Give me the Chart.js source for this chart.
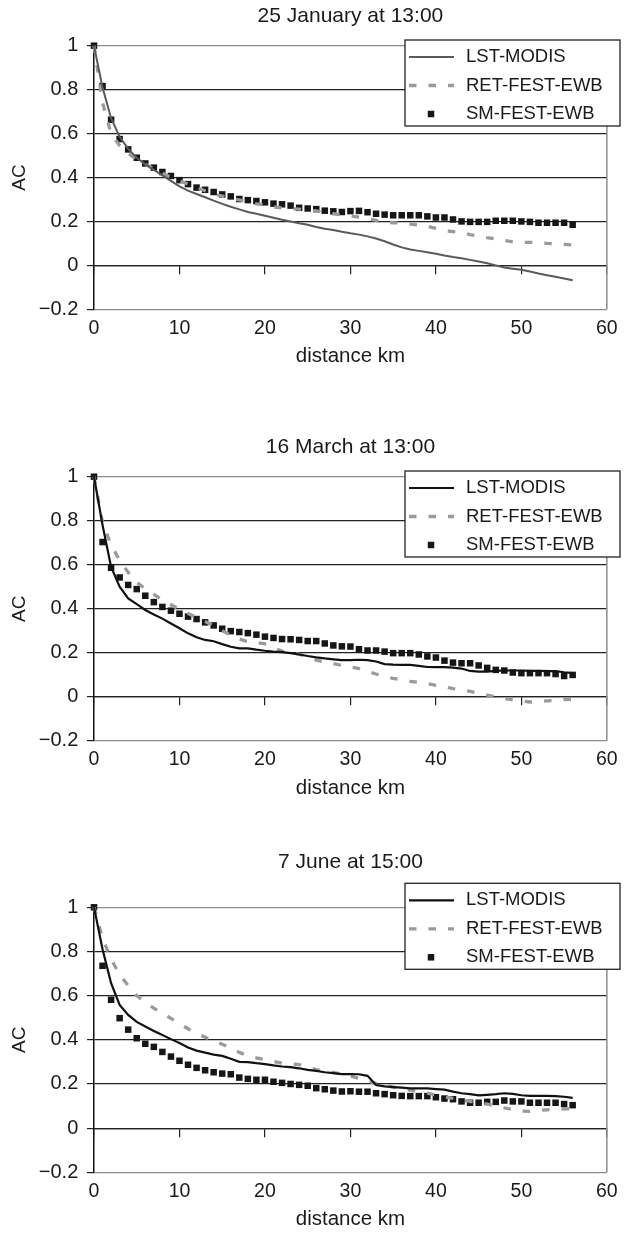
<!DOCTYPE html>
<html>
<head>
<meta charset="utf-8">
<script src="https://cdn.jsdelivr.net/npm/chart.js@4.4.1/dist/chart.umd.min.js"></script>
<style>
  html, body { margin: 0; padding: 0; background: #fff; }
  body { width: 625px; height: 1234px; position: relative; overflow: hidden; }
  canvas { position: absolute; left: 0; }
</style>
</head>
<body>
<canvas id="c1"></canvas>
<canvas id="c2"></canvas>
<canvas id="c3"></canvas>
<script>
// ---------------- DATA ----------------
const distanceKm = [0,1,2,3,4,5,6,7,8,9,10,11,12,13,14,15,16,17,18,19,20,21,22,23,24,25,26,27,28,29,30,31,32,33,34,35,36,37,38,39,40,41,42,43,44,45,46,47,48,49,50,51,52,53,54,55,56];

const seriesNames = ['LST-MODIS', 'RET-FEST-EWB', 'SM-FEST-EWB'];
const chartTitles = ['25 January at 13:00', '16 March at 13:00', '7 June at 15:00'];

const xTickValues = [0, 10, 20, 30, 40, 50, 60];
const xTickLabels = ['0', '10', '20', '30', '40', '50', '60'];
const yTickValues = [-0.2, 0, 0.2, 0.4, 0.6, 0.8, 1];
const yTickLabels = ['\u22120.2', '0', '0.2', '0.4', '0.6', '0.8', '1'];

// 25 January at 13:00
const janLST = [1.0,0.81,0.67,0.585,0.53,0.49,0.46,0.435,0.41,0.385,0.36,0.34,0.325,0.31,0.295,0.28,0.267,0.255,0.243,0.235,0.226,0.217,0.208,0.2,0.192,0.185,0.175,0.167,0.161,0.153,0.146,0.14,0.132,0.122,0.11,0.095,0.082,0.072,0.066,0.06,0.053,0.045,0.038,0.032,0.025,0.018,0.01,0.0,-0.01,-0.015,-0.02,-0.028,-0.037,-0.045,-0.052,-0.06,-0.068];
const janRET = [1.0,0.74,0.6,0.545,0.51,0.48,0.46,0.44,0.42,0.4,0.385,0.37,0.355,0.34,0.325,0.315,0.305,0.298,0.29,0.28,0.275,0.266,0.262,0.258,0.256,0.252,0.248,0.24,0.235,0.23,0.225,0.22,0.213,0.205,0.197,0.194,0.192,0.188,0.183,0.178,0.168,0.158,0.154,0.15,0.14,0.133,0.126,0.12,0.113,0.107,0.105,0.105,0.104,0.1,0.098,0.096,0.093];
const janSM = [1.0,0.816,0.663,0.575,0.528,0.49,0.464,0.445,0.425,0.407,0.388,0.37,0.354,0.344,0.334,0.323,0.314,0.302,0.297,0.293,0.287,0.281,0.278,0.272,0.262,0.259,0.256,0.249,0.246,0.243,0.247,0.248,0.242,0.235,0.231,0.228,0.228,0.228,0.228,0.223,0.218,0.218,0.209,0.2,0.198,0.198,0.198,0.203,0.203,0.203,0.2,0.198,0.194,0.194,0.194,0.194,0.185];

// 16 March at 13:00
const marLST = [1.0,0.78,0.59,0.5,0.447,0.421,0.394,0.374,0.355,0.333,0.311,0.288,0.27,0.258,0.252,0.239,0.227,0.22,0.22,0.214,0.209,0.205,0.203,0.198,0.192,0.185,0.179,0.174,0.17,0.166,0.166,0.168,0.166,0.16,0.148,0.146,0.145,0.145,0.14,0.135,0.134,0.134,0.132,0.128,0.117,0.114,0.114,0.117,0.119,0.119,0.119,0.117,0.117,0.116,0.116,0.111,0.107];
const marRET = [1.0,0.79,0.69,0.62,0.565,0.52,0.49,0.465,0.44,0.418,0.397,0.378,0.36,0.342,0.322,0.3,0.28,0.262,0.25,0.246,0.24,0.222,0.207,0.2,0.193,0.182,0.166,0.158,0.15,0.142,0.136,0.128,0.115,0.103,0.092,0.083,0.076,0.07,0.065,0.059,0.052,0.045,0.037,0.03,0.024,0.016,0.007,0.0,-0.008,-0.014,-0.02,-0.024,-0.022,-0.019,-0.016,-0.013,-0.012];
const marSM = [1.0,0.703,0.586,0.542,0.508,0.489,0.459,0.43,0.408,0.391,0.377,0.364,0.353,0.338,0.324,0.309,0.298,0.294,0.289,0.282,0.273,0.267,0.262,0.261,0.258,0.253,0.253,0.242,0.233,0.229,0.228,0.216,0.21,0.21,0.205,0.198,0.198,0.198,0.192,0.183,0.178,0.164,0.155,0.152,0.152,0.142,0.131,0.122,0.119,0.11,0.107,0.107,0.107,0.107,0.103,0.094,0.099];

// 7 June at 15:00
const junLST = [1.0,0.81,0.656,0.558,0.513,0.481,0.46,0.44,0.422,0.403,0.385,0.365,0.351,0.342,0.333,0.327,0.314,0.3,0.299,0.294,0.29,0.284,0.279,0.276,0.271,0.264,0.259,0.253,0.249,0.245,0.245,0.244,0.237,0.195,0.189,0.186,0.183,0.18,0.18,0.18,0.177,0.174,0.165,0.158,0.154,0.148,0.151,0.154,0.158,0.155,0.149,0.146,0.146,0.146,0.145,0.142,0.137];
const junRET = [1.0,0.86,0.765,0.695,0.645,0.6,0.57,0.543,0.52,0.497,0.474,0.45,0.43,0.412,0.395,0.38,0.362,0.343,0.327,0.318,0.31,0.302,0.294,0.291,0.288,0.276,0.265,0.258,0.252,0.245,0.236,0.225,0.213,0.203,0.194,0.186,0.178,0.172,0.165,0.158,0.15,0.142,0.135,0.128,0.121,0.115,0.109,0.1,0.092,0.085,0.077,0.076,0.08,0.083,0.085,0.087,0.088];
const junSM = [1.0,0.735,0.581,0.498,0.446,0.407,0.382,0.368,0.345,0.324,0.305,0.287,0.273,0.262,0.253,0.247,0.244,0.229,0.223,0.219,0.219,0.21,0.205,0.2,0.196,0.192,0.181,0.176,0.17,0.166,0.167,0.165,0.165,0.158,0.154,0.149,0.146,0.145,0.145,0.145,0.14,0.134,0.131,0.121,0.115,0.115,0.119,0.119,0.125,0.121,0.121,0.115,0.115,0.115,0.115,0.109,0.104];

// ---------------- STYLE / LAYOUT ----------------
const FONT = "'Liberation Sans', Arial, Helvetica, sans-serif";
const TEXT = '#1a1a1a';
Chart.defaults.font.family = FONT;
Chart.defaults.color = TEXT;

const boxLegend = {
  id: 'boxLegend',
  afterDatasetsDraw(chart, args, o) {
    const ctx = chart.ctx;
    ctx.save();
    ctx.fillStyle = '#ffffff';
    ctx.fillRect(o.left, o.top, o.width, o.height);
    ctx.strokeStyle = '#222222';
    ctx.lineWidth = 1.3;
    ctx.strokeRect(o.left, o.top, o.width, o.height);
    chart.data.datasets.forEach((ds, i) => {
      const y = o.top + o.rows[i];
      if (ds.showLine === false) {
        const s = ds.pointRadius * Math.SQRT2;
        ctx.fillStyle = ds.pointBackgroundColor;
        ctx.fillRect(o.markerX - s / 2, y - s / 2, s, s);
      } else {
        ctx.strokeStyle = ds.borderColor;
        ctx.lineWidth = ds.borderWidth;
        ctx.setLineDash(ds.borderDash || []);
        ctx.beginPath();
        ctx.moveTo(o.sampleX0, y);
        ctx.lineTo(o.sampleX1, y);
        ctx.stroke();
        ctx.setLineDash([]);
      }
      ctx.fillStyle = TEXT;
      ctx.font = '18.5px ' + FONT;
      ctx.textBaseline = 'middle';
      ctx.textAlign = 'left';
      ctx.fillText(ds.label, o.textX, y);
    });
    ctx.restore();
  }
};

const plotBorder = {
  id: 'plotBorder',
  beforeDatasetsDraw(chart) {
    const {ctx, chartArea: a} = chart;
    ctx.save();
    ctx.strokeStyle = '#8c8c8c';
    ctx.lineWidth = 1.5;
    ctx.beginPath();
    ctx.moveTo(a.right, a.top);
    ctx.lineTo(a.right, a.bottom);
    ctx.stroke();
    ctx.restore();
  }
};

function labelFor(values, labels, v) {
  const i = values.findIndex(t => Math.abs(t - v) < 1e-6);
  return i >= 0 ? labels[i] : '';
}

function makeChart(id, cfg) {
  const canvas = document.getElementById(id);
  canvas.width = 625;
  canvas.height = cfg.H;
  canvas.style.top = cfg.T + 'px';
  canvas.style.width = '625px';
  canvas.style.height = cfg.H + 'px';

  const titleLH = 21 * 1.2;
  const tPadTop = cfg.titleCenter - titleLH / 2;
  const tPadBottom = cfg.areaTop - tPadTop - titleLH;
  const xAxisH = 61.7;
  const padBottom = cfg.H - cfg.areaBottom - xAxisH;

  const pts = arr => distanceKm.map((x, i) => ({x: x, y: arr[i]}));

  return new Chart(canvas, {
    type: 'line',
    data: {
      datasets: [
        {
          label: seriesNames[0], data: pts(cfg.lst), xAxisID: 'x', yAxisID: 'y',
          borderColor: cfg.lstColor, borderWidth: cfg.lstWidth, pointRadius: 0,
          tension: 0, fill: false, clip: false
        },
        {
          label: seriesNames[1], data: pts(cfg.ret), xAxisID: 'x', yAxisID: 'y',
          borderColor: '#9a9a9a', borderWidth: 3.3, borderDash: [7.5, 12], pointRadius: 0,
          tension: 0, fill: false, clip: false
        },
        {
          label: seriesNames[2], data: pts(cfg.sm), xAxisID: 'x', yAxisID: 'y',
          showLine: false, pointStyle: 'rect', pointRadius: 4.6, pointBorderWidth: 0,
          pointBackgroundColor: '#161616', pointBorderColor: '#161616',
          backgroundColor: '#161616', borderColor: '#161616', clip: false
        }
      ]
    },
    options: {
      responsive: false,
      devicePixelRatio: 1,
      animation: false,
      events: [],
      layout: { padding: { left: 0, right: 13, top: 0, bottom: padBottom } },
      plugins: {
        legend: { display: false },
        tooltip: { enabled: false },
        title: {
          display: true, text: cfg.title, color: TEXT, fullSize: false,
          font: { family: FONT, size: 21, weight: 'normal', lineHeight: 1.2 },
          padding: { top: tPadTop, bottom: tPadBottom }
        },
        boxLegend: {
          left: 405, top: cfg.legendTop, width: 215, height: 86,
          rows: [17, 45.5, 74], sampleX0: 409, sampleX1: 454, markerX: 431, textX: 466
        }
      },
      scales: {
        x: {
          type: 'linear', position: 'bottom', min: 0, max: 60,
          afterBuildTicks: s => { s.ticks = xTickValues.map(v => ({value: v})); },
          ticks: {
            font: { size: 19.5 }, color: TEXT, padding: 7.3, maxRotation: 0,
            callback: v => labelFor(xTickValues, xTickLabels, v)
          },
          grid: { display: false, drawTicks: false },
          border: { display: false },
          title: {
            display: true, text: 'distance km', color: TEXT,
            font: { size: 20.5, lineHeight: 1 }, padding: { top: 0, bottom: 4.15 }
          },
          afterFit: s => { s.height = xAxisH; }
        },
        x0: {
          type: 'linear', position: { y: 0 }, min: 0, max: 60,
          afterBuildTicks: s => { s.ticks = xTickValues.map(v => ({value: v})); },
          ticks: { display: false },
          grid: { drawOnChartArea: false, drawTicks: true, tickLength: 8, color: '#222222', lineWidth: 1.2 },
          border: { display: true, color: '#222222', width: 1.2 }
        },
        y: {
          type: 'linear', position: 'left', min: -0.2, max: 1,
          afterBuildTicks: s => { s.ticks = yTickValues.map(v => ({value: v})); },
          ticks: {
            font: { size: 20 }, color: TEXT, padding: 8.7,
            callback: v => labelFor(yTickValues, yTickLabels, v)
          },
          grid: {
            drawTicks: true, tickLength: 7, tickColor: '#222222', lineWidth: 1.2,
            color: c => (c.tick && (Math.abs(c.tick.value - 1) < 1e-6 || Math.abs(c.tick.value + 0.2) < 1e-6)) ? '#8c8c8c' : '#222222'
          },
          border: { display: true, color: '#111111', width: 1.5 },
          title: {
            display: true, text: 'AC', color: TEXT,
            font: { size: 19, lineHeight: 1.2 }, padding: { top: 8.6, bottom: 0 }
          },
          afterFit: s => { s.width = 94; }
        }
      }
    },
    plugins: [plotBorder, boxLegend]
  });
}

makeChart('c1', { T: 0, H: 420, titleCenter: 16, areaTop: 45.7, areaBottom: 309.3, legendTop: 40,
  title: chartTitles[0], lst: janLST, ret: janRET, sm: janSM, lstColor: '#5a5a5a', lstWidth: 2 });
makeChart('c2', { T: 420, H: 410, titleCenter: 27, areaTop: 56.7, areaBottom: 320.7, legendTop: 51,
  title: chartTitles[1], lst: marLST, ret: marRET, sm: marSM, lstColor: '#111111', lstWidth: 2.2 });
makeChart('c3', { T: 830, H: 404, titleCenter: 32.5, areaTop: 77.3, areaBottom: 342.3, legendTop: 53.3,
  title: chartTitles[2], lst: junLST, ret: junRET, sm: junSM, lstColor: '#111111', lstWidth: 2.2 });
</script>
</body>
</html>
